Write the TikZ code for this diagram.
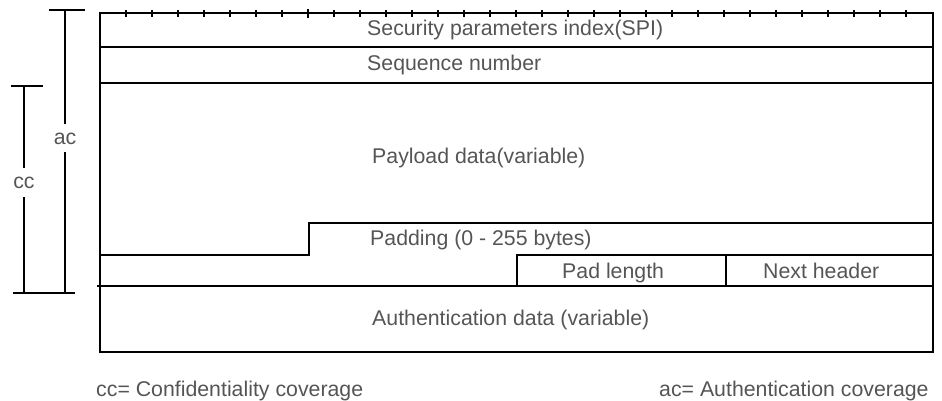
\documentclass[tikz,border=0pt]{standalone}
\usepackage{fontspec}
\setmainfont{Liberation Sans}
\definecolor{txtgray}{HTML}{555555}
\begin{document}
\begin{tikzpicture}[x=1pt,y=-1pt,
  rule/.style={line width=2.8pt,black},
  tickmark/.style={line width=2.8pt,black},
  lbl/.style={inner sep=0pt,anchor=base west,text=txtgray,font=\fontsize{21.3}{25}\selectfont},
  brlbl/.style={inner sep=0pt,anchor=base,text=txtgray,font=\fontsize{21.3}{25}\selectfont}]
\useasboundingbox (0,0) rectangle (942,401);
% frame
\draw[rule] (100,13) rectangle (933,352);
\draw[rule] (100,47) -- (933,47);
\draw[rule] (100,83) -- (933,83);
\draw[rule] (100,255) -- (309,255) -- (309,223) -- (933,223);
\draw[rule] (517,286) -- (517,255) -- (933,255);
\draw[rule] (726,255) -- (726,286);
\draw[rule] (97,286) -- (933,286);
% ticks
\foreach \k in {1,...,31}{
  \draw[tickmark] (100+26*\k,10) -- (100+26*\k,17);
}
\draw[tickmark] (308,9) -- (308,18.5);
% texts
\node[lbl] (spi) at (367,36) {Security parameters index(SPI)};
\node[lbl] (seq) at (367,71) {Sequence number};
\node[lbl] (pay) at (372,164) {Payload data(variable)};
\node[lbl] (pad) at (370,245) {Padding (0 - 255 bytes)};
\node[lbl] (padlen) at (562,278) {Pad length};
\node[lbl] (next) at (763,278) {Next header};
\node[lbl] (auth) at (372,325) {Authentication data (variable)};
\node[lbl] (ccdef) at (96,396) {cc= Confidentiality coverage};
\node[lbl] (acdef) at (659,396) {ac= Authentication coverage};
% brackets
\node[brlbl] (ac) at (65,145) {ac};
\node[brlbl] (cc) at (24,188) {cc};
\coordinate (actop) at (65,10);
\coordinate (acbot) at (65,293);
\coordinate (cctop) at (24,86);
\coordinate (ccbot) at (24,293);
\draw[rule] (49,10) -- (85,10);
\draw[rule] (actop) -- (65,124);
\draw[rule] (65,152) -- (acbot);
\draw[rule] (11,86) -- (43,86);
\draw[rule] (cctop) -- (24,168);
\draw[rule] (24,197) -- (ccbot);
\draw[rule] (13,293) -- (75,293);
\end{tikzpicture}
\end{document}
